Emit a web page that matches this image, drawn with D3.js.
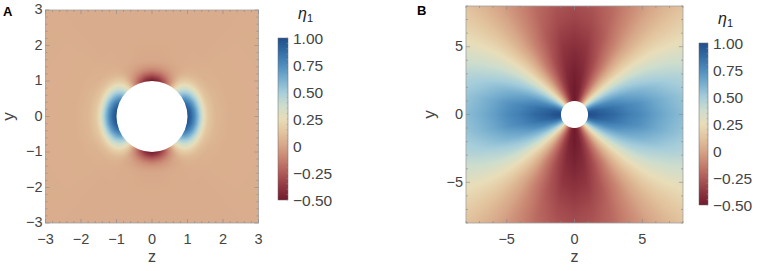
<!DOCTYPE html>
<html><head><meta charset="utf-8">
<script src="https://cdn.jsdelivr.net/npm/d3@7"></script>
<style>
body{margin:0;background:#fff}
svg{display:block}
text{font-family:"Liberation Sans",Arial,sans-serif;fill:#444}
</style>
</head><body>
<svg id="c" width="765" height="271"></svg>
<script>
// ---------- data ----------
// polar angle from the z axis (deg), field is mirror-symmetric in z and y
const angles = [0, 10, 20, 30, 40, 50, 60, 70, 80, 90];

// Panel A: radii (units of particle radius) and eta_1 values, one row per angle
const radiiA = [1.0, 1.1, 1.2, 1.3, 1.4, 1.5, 1.6, 1.8, 2.2, 5.0];
const etaA = [
  [ 1.00, 0.90, 0.76, 0.58, 0.38, 0.22, 0.13, 0.07, 0.04, 0.03],
  [ 0.98, 0.88, 0.74, 0.56, 0.37, 0.21, 0.13, 0.07, 0.04, 0.03],
  [ 0.90, 0.80, 0.67, 0.51, 0.34, 0.20, 0.12, 0.07, 0.04, 0.03],
  [ 0.74, 0.66, 0.55, 0.42, 0.29, 0.18, 0.11, 0.06, 0.04, 0.03],
  [ 0.50, 0.45, 0.38, 0.30, 0.21, 0.14, 0.09, 0.05, 0.04, 0.03],
  [ 0.25, 0.22, 0.19, 0.15, 0.11, 0.08, 0.06, 0.04, 0.03, 0.03],
  [-0.05,-0.03,-0.01, 0.01, 0.02, 0.02, 0.03, 0.03, 0.03, 0.03],
  [-0.28,-0.20,-0.12,-0.06,-0.02, 0.00, 0.02, 0.03, 0.03, 0.03],
  [-0.44,-0.32,-0.20,-0.10,-0.04,-0.01, 0.01, 0.02, 0.03, 0.03],
  [-0.50,-0.37,-0.23,-0.12,-0.05,-0.01, 0.01, 0.02, 0.03, 0.03]
];

// Panel B
const radiiB = [1, 1.5, 2, 3, 4, 5, 6, 7, 8, 9, 10, 11.5];
const etaB = [
  [ 1.00, 0.98, 0.94, 0.88, 0.81, 0.75, 0.68, 0.62, 0.57, 0.52, 0.48, 0.43],
  [ 0.96, 0.94, 0.90, 0.84, 0.77, 0.72, 0.65, 0.59, 0.54, 0.50, 0.46, 0.41],
  [ 0.82, 0.81, 0.77, 0.72, 0.66, 0.61, 0.56, 0.51, 0.47, 0.43, 0.40, 0.36],
  [ 0.63, 0.61, 0.58, 0.54, 0.50, 0.46, 0.42, 0.38, 0.35, 0.32, 0.30, 0.27],
  [ 0.38, 0.37, 0.35, 0.32, 0.29, 0.27, 0.25, 0.23, 0.21, 0.19, 0.18, 0.17],
  [ 0.12, 0.11, 0.10, 0.08, 0.07, 0.07, 0.06, 0.06, 0.06, 0.06, 0.06, 0.06],
  [-0.13,-0.13,-0.14,-0.14,-0.14,-0.12,-0.11,-0.09,-0.08,-0.07,-0.06,-0.04],
  [-0.32,-0.33,-0.33,-0.32,-0.30,-0.27,-0.25,-0.22,-0.20,-0.18,-0.16,-0.13],
  [-0.46,-0.46,-0.46,-0.44,-0.41,-0.38,-0.34,-0.30,-0.27,-0.25,-0.22,-0.18],
  [-0.50,-0.50,-0.50,-0.48,-0.45,-0.41,-0.37,-0.33,-0.30,-0.27,-0.24,-0.20]
];

const ticksA = [-3, -2, -1, 0, 1, 2, 3];
const ticksB = [-5, 0, 5];
const cbTicks = [1, 0.75, 0.5, 0.25, 0, -0.25, -0.5];
const cbLabels = ["1.00", "0.75", "0.50", "0.25", "0", "\u22120.25", "\u22120.50"];

const colorStops = [-0.5, -0.375, -0.25, -0.125, 0, 0.125, 0.25, 0.375, 0.5, 0.625, 0.75, 0.875, 1.0];
const colorList = ["#701b2d", "#913741", "#b05a58", "#c6806e", "#d6a587", "#e2c49e", "#e8ddb8",
                   "#cdddcd", "#a5cdda", "#76aece", "#4e8cbd", "#326ca4", "#204e8c"];

// ---------- drawing ----------
const svg = d3.select("#c");
const color = d3.scaleLinear().domain(colorStops).range(colorList).interpolate(d3.interpolateRgb).clamp(true);
const fmt = v => (v < 0 ? "\u2212" : "") + Math.abs(v);

function lookup(radii, table, r, th) {
  const ai = Math.min(th / 10, angles.length - 1.000001);
  const a0 = Math.floor(ai), at = ai - a0;
  let rr = Math.max(radii[0], Math.min(r, radii[radii.length - 1]));
  let j = d3.bisectRight(radii, rr) - 1;
  j = Math.max(0, Math.min(j, radii.length - 2));
  const rt = (rr - radii[j]) / (radii[j + 1] - radii[j]);
  const v = (row) => table[row][j] * (1 - rt) + table[row][j + 1] * rt;
  return v(a0) * (1 - at) + v(a0 + 1) * at;
}

function panel(o) {
  const g = svg.append("g");
  const x = d3.scaleLinear().domain(o.dom).range([o.x0, o.x1]);
  const y = d3.scaleLinear().domain(o.dom).range([o.y1, o.y0]);
  const W = Math.round(o.x1 - o.x0), H = Math.round(o.y1 - o.y0);
  const cv = document.createElement("canvas");
  cv.width = W; cv.height = H;
  const ctx = cv.getContext("2d");
  const img = ctx.createImageData(W, H);
  for (let py = 0; py < H; py++) {
    const yy = y.invert(o.y0 + py + 0.5);
    for (let px = 0; px < W; px++) {
      const zz = x.invert(o.x0 + px + 0.5);
      const r = Math.hypot(zz, yy);
      const th = Math.atan2(Math.abs(yy), Math.abs(zz)) * 180 / Math.PI;
      const c = d3.rgb(color(lookup(o.radii, o.table, r, th)));
      const k = (py * W + px) * 4;
      img.data[k] = c.r; img.data[k + 1] = c.g; img.data[k + 2] = c.b; img.data[k + 3] = 255;
    }
  }
  ctx.putImageData(img, 0, 0);
  g.append("image").attr("x", o.x0).attr("y", o.y0).attr("width", W).attr("height", H)
    .attr("preserveAspectRatio", "none").attr("href", cv.toDataURL());
  // particle
  g.append("circle").attr("cx", x(0)).attr("cy", y(0)).attr("r", x(1) - x(0)).attr("fill", "#fff");
  // frame
  g.append("rect").attr("x", o.x0).attr("y", o.y0).attr("width", o.x1 - o.x0).attr("height", o.y1 - o.y0)
    .attr("fill", "none").attr("stroke", "#a0a0a0").attr("stroke-width", 0.8);
  // frame ticks (inside)
  const minor = d3.range(o.dom[0], o.dom[1] + 1e-9, o.minor);
  const tickG = g.append("g").attr("stroke", "#8a8a8a").attr("stroke-width", 0.6);
  minor.forEach(v => {
    const isMajor = Math.abs(v / o.major - Math.round(v / o.major)) < 1e-6;
    const L = isMajor ? 4 : 2;
    tickG.append("line").attr("x1", x(v)).attr("x2", x(v)).attr("y1", o.y1).attr("y2", o.y1 - L);
    tickG.append("line").attr("x1", x(v)).attr("x2", x(v)).attr("y1", o.y0).attr("y2", o.y0 + L);
    tickG.append("line").attr("y1", y(v)).attr("y2", y(v)).attr("x1", o.x0).attr("x2", o.x0 + L);
    tickG.append("line").attr("y1", y(v)).attr("y2", y(v)).attr("x1", o.x1).attr("x2", o.x1 - L);
  });
  // tick labels
  o.ticks.forEach(v => {
    g.append("text").attr("x", x(v)).attr("y", o.y1 + 21).attr("text-anchor", "middle")
      .attr("font-size", 14.5).text(fmt(v));
    g.append("text").attr("x", o.x0 - 3).attr("y", y(v)).attr("dy", "0.3em").attr("text-anchor", "end")
      .attr("font-size", 14.5).text(fmt(v));
  });
  g.append("text").attr("x", (o.x0 + o.x1) / 2).attr("y", o.y1 + 39).attr("text-anchor", "middle")
    .attr("font-size", 16).text("z");
  g.append("text").attr("transform", `translate(${o.ylx},${(o.y0 + o.y1) / 2}) rotate(-90)`)
    .attr("text-anchor", "middle").attr("dy", "0.3em").attr("font-size", 17).text("y");
  g.append("text").attr("x", o.lx).attr("y", o.ly).attr("font-size", 13).attr("font-weight", "bold")
    .style("fill", "#000").text(o.letter);

  // colorbar
  const cb = d3.scaleLinear().domain([-0.5, 1]).range([o.cb.y1, o.cb.y0]);
  const gid = "grad" + o.letter;
  const grad = svg.append("defs").append("linearGradient").attr("id", gid)
    .attr("x1", 0).attr("y1", 1).attr("x2", 0).attr("y2", 0);
  colorStops.forEach((s, i) => grad.append("stop").attr("offset", (s + 0.5) / 1.5).attr("stop-color", colorList[i]));
  g.append("rect").attr("x", o.cb.x).attr("y", o.cb.y0).attr("width", o.cb.w).attr("height", o.cb.y1 - o.cb.y0)
    .attr("fill", `url(#${gid})`).attr("stroke", "#6a6a6a").attr("stroke-width", 0.5);
  const cbt = g.append("g").attr("stroke", "#9a9a9a").attr("stroke-width", 0.5);
  d3.range(-0.5, 1.0001, 0.05).forEach(v => {
    cbt.append("line").attr("x1", o.cb.x + o.cb.w).attr("x2", o.cb.x + o.cb.w - 1.5).attr("y1", cb(v)).attr("y2", cb(v));
  });
  cbTicks.forEach((v, i) => {
    g.append("text").attr("x", o.cb.x + o.cb.w + 5).attr("y", cb(v)).attr("dy", "0.36em")
      .attr("font-size", 15.5).text(cbLabels[i]);
  });
  const eta = g.append("text").attr("x", o.cb.x + o.cb.w + 10).attr("y", o.cb.y0 - 19).attr("font-size", 16)
    .style("fill", "#222");
  eta.append("tspan").attr("font-style", "italic").text("\u03b7");
  eta.append("tspan").attr("font-size", 11).attr("dy", 3).text("1");
}

panel({letter: "A", dom: [-3, 3], x0: 45.5, x1: 258.5, y0: 10, y1: 223, radii: radiiA, table: etaA,
  ticks: ticksA, major: 1, minor: 0.2, ylx: 9, lx: 3, ly: 16,
  cb: {x: 278, w: 10, y0: 38, y1: 200}});
panel({letter: "B", dom: [-8, 8], x0: 466, x1: 683, y0: 6, y1: 223, radii: radiiB, table: etaB,
  ticks: ticksB, major: 5, minor: 1, ylx: 430, lx: 417, ly: 15,
  cb: {x: 699, w: 9, y0: 43, y1: 205}});
</script>
</body></html>
